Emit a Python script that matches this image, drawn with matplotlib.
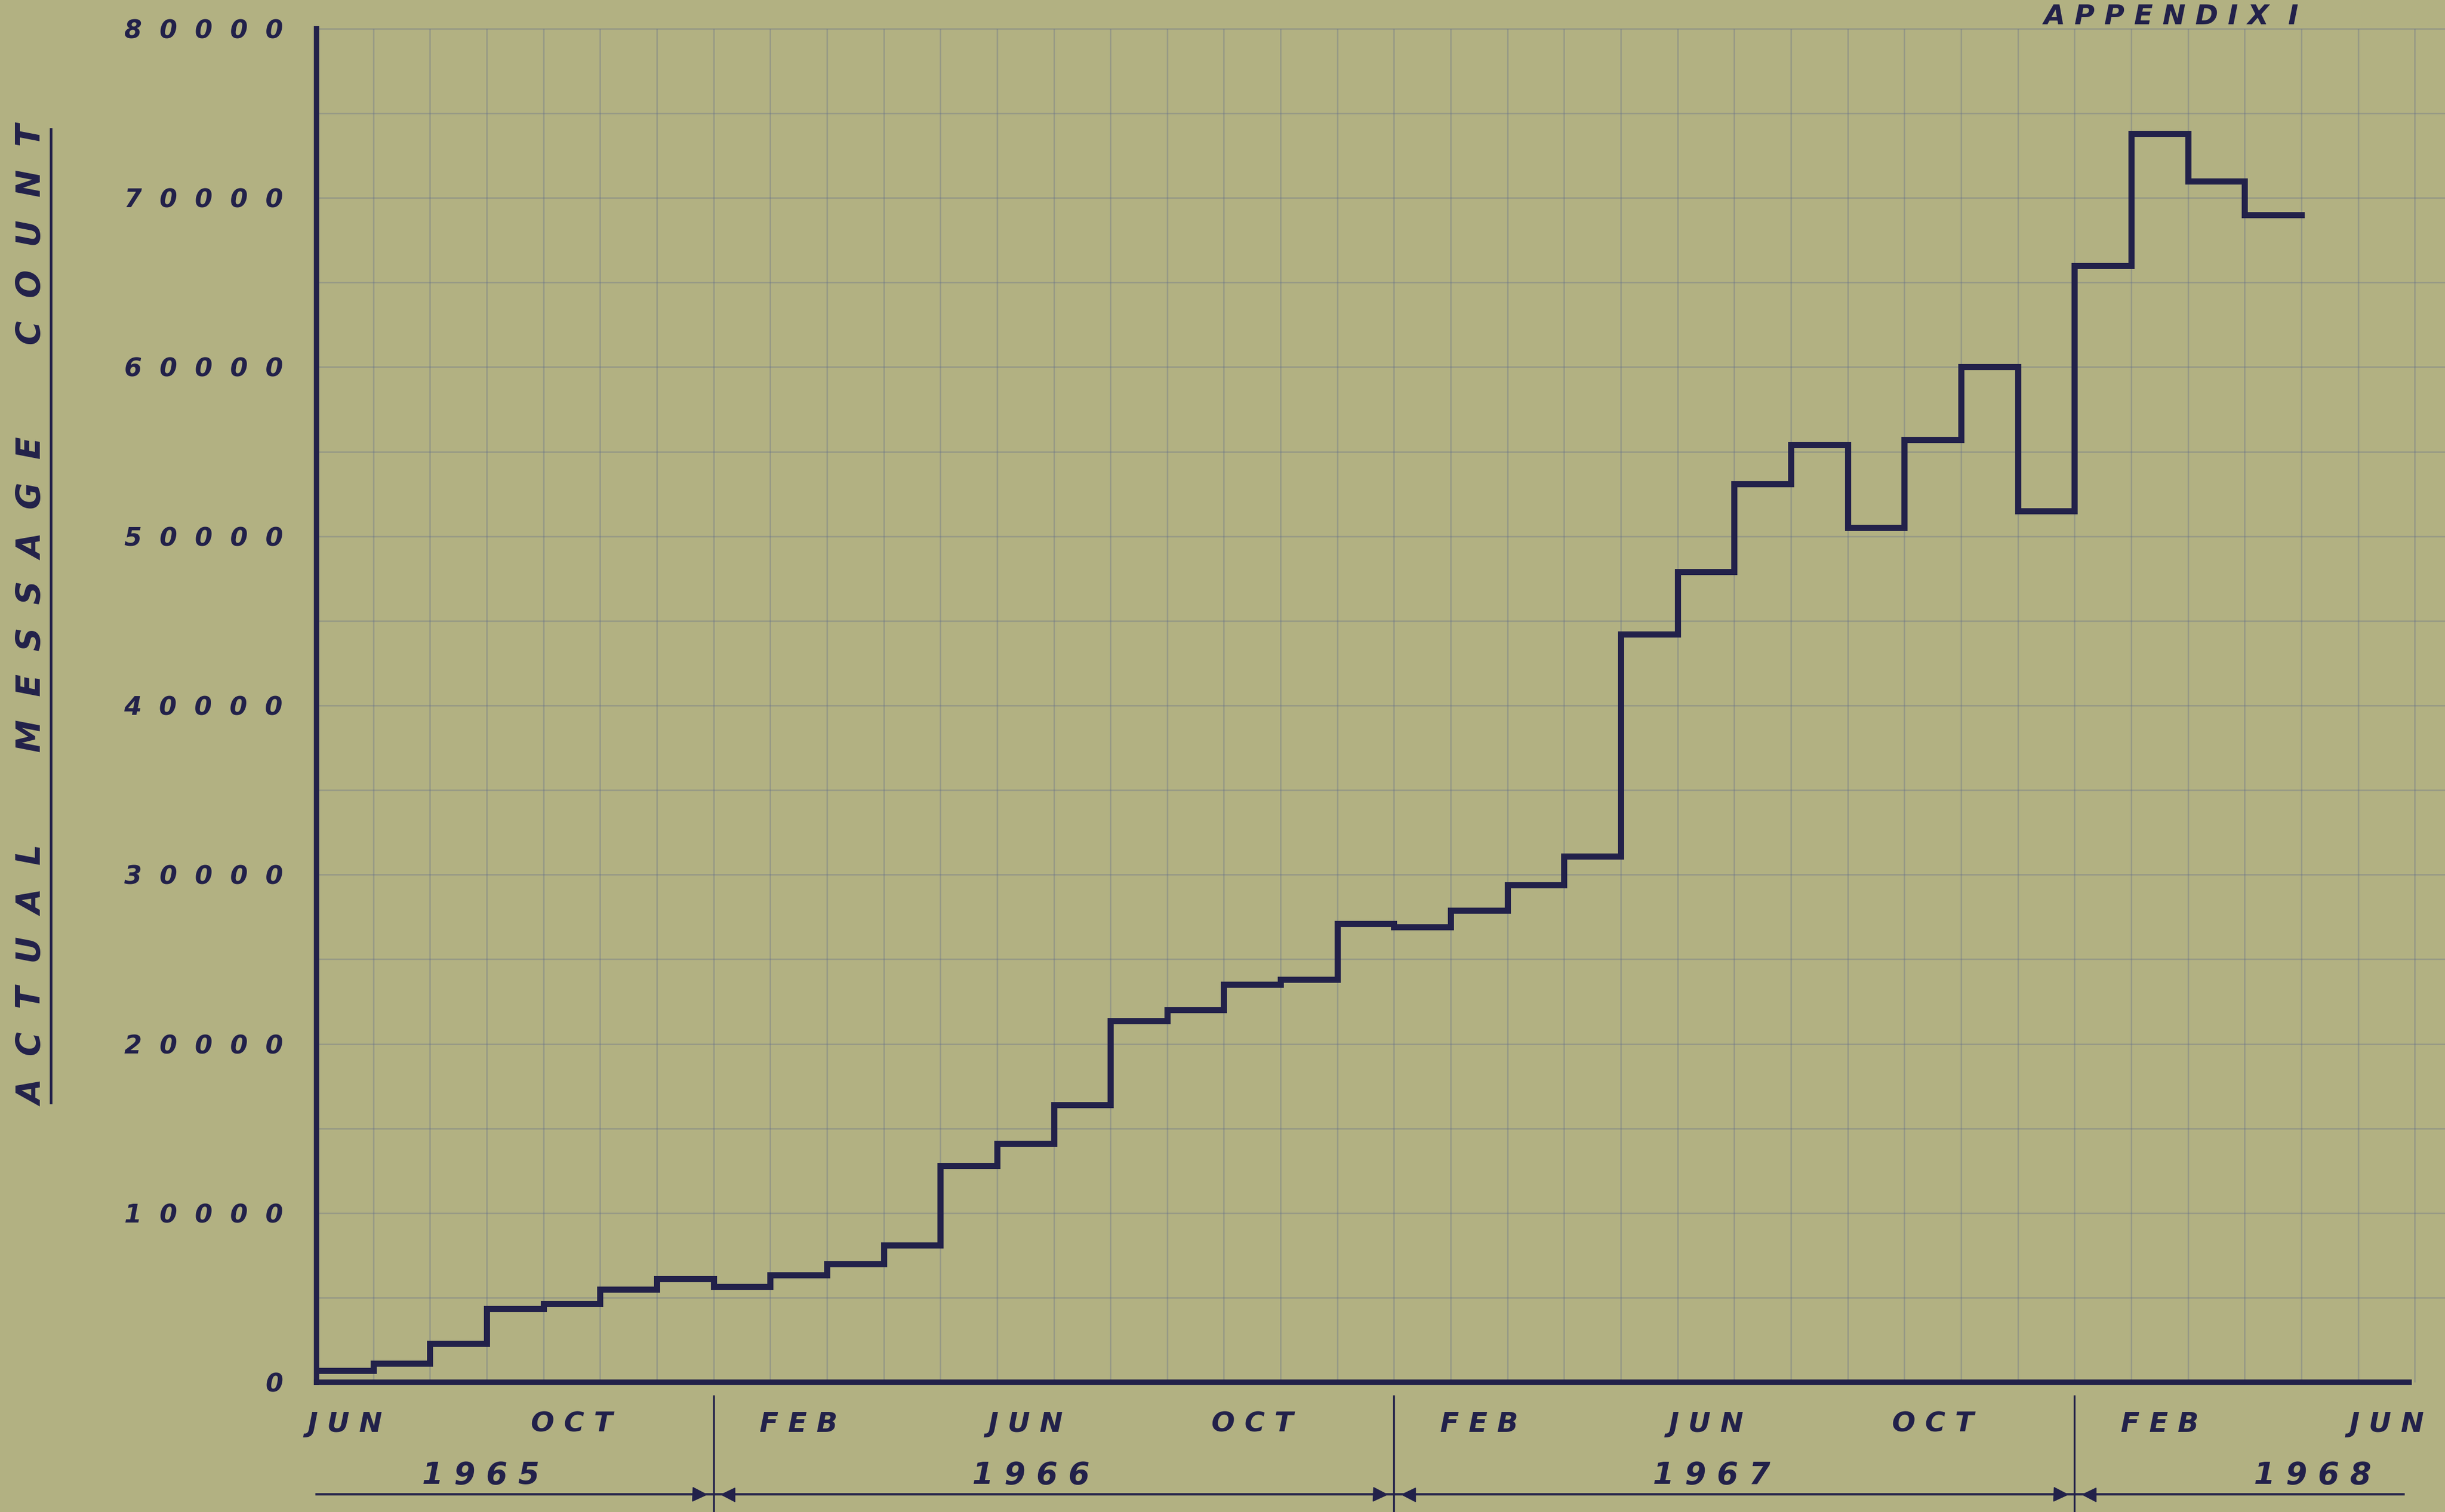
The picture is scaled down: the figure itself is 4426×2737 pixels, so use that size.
import numpy as np
import matplotlib
matplotlib.use("Agg")
import matplotlib.pyplot as plt
from matplotlib.lines import Line2D
import matplotlib.transforms as mtransforms

# monthly message counts, Jun 1965 .. Apr 1968
counts = [700, 1100, 2300, 4350, 4650, 5500, 6100, 5650, 6350, 7000,
          8100, 12800, 14100, 16400, 21350, 22000, 23500, 23800, 27100, 26900,
          27900, 29400, 31100, 44200, 47900, 53100, 55400, 50500, 55700, 60000,
          51500, 66000, 73800, 71000, 69000]
month_names = ["JUN", "OCT", "FEB", "JUN", "OCT", "FEB", "JUN", "OCT", "FEB", "JUN"]
month_pos = [0, 4, 8, 12, 16, 20, 24, 28, 32, 36]
years = ["1965", "1966", "1967", "1968"]
year_pos = [2.9, 12.6, 24.6, 35.2]
year_breaks = [7, 19, 31]
y_ticks = [0, 10000, 20000, 30000, 40000, 50000, 60000, 70000, 80000]

PAPER = "#b2b182"
INK = "#22214a"
GRID = "#5d6a8c"
FONT = ["Liberation Sans Narrow", "DejaVu Sans"]

def spaced(s, gap=" "):
    return gap.join(s)

W, H = 4426, 2737
fig = plt.figure(figsize=(W / 100, H / 100), dpi=100)
fig.patch.set_facecolor(PAPER)
ax = fig.add_axes([573 / W, 235 / H, (4361 - 573) / W, (2502 - 52) / H])
ax.set_facecolor(PAPER)
ax.set_xlim(0, 36.9)
ax.set_ylim(0, 80000)

# graph paper
ax.vlines(np.arange(1, 38), 0, 80000, color=GRID, lw=1.8, alpha=0.34, zorder=1, clip_on=False)
ax.hlines(np.arange(5000, 80001, 5000), 0, 37.6, color=GRID, lw=1.8, alpha=0.34, zorder=1, clip_on=False)

# the step curve
edges = np.arange(len(counts) + 1)
ax.stairs(counts, edges, baseline=None, color=INK, lw=8, zorder=3,
          joinstyle="miter", capstyle="projecting")

for side in ["top", "right"]:
    ax.spines[side].set_visible(False)
for side in ["left", "bottom"]:
    ax.spines[side].set_color(INK)
    ax.spines[side].set_linewidth(7)
    ax.spines[side].set_capstyle("projecting")

ax.set_xticks([])
ax.set_yticks(y_ticks)
ax.set_yticklabels([spaced(str(v), "  ") if v else "0" for v in y_ticks],
                   family=FONT, style="italic", weight="bold", fontsize=33, color=INK)
ax.tick_params(axis="y", length=0, pad=44)

trans = mtransforms.blended_transform_factory(ax.transData, ax.transAxes)
for name, m in zip(month_names, month_pos):
    ax.text(m + 0.5, -0.031, spaced(name), transform=trans, ha="center", va="center",
            family=FONT, style="italic", weight="bold", fontsize=36, color=INK, clip_on=False)
for yr, m in zip(years, year_pos):
    ax.text(m, -0.069, spaced(yr), transform=trans, ha="center", va="center",
            family=FONT, style="italic", weight="bold", fontsize=40, color=INK, clip_on=False)

# year bracket line with separators and arrow heads
ax.plot([0, 36.8], [-0.083, -0.083], transform=trans, color=INK, lw=3, clip_on=False)
for b in year_breaks:
    ax.plot([b, b], [-0.010, -0.097], transform=trans, color=INK, lw=2.4, clip_on=False)
    ax.plot([b - 0.25], [-0.083], transform=trans, marker=">", ms=18, color=INK, clip_on=False)
    ax.plot([b + 0.25], [-0.083], transform=trans, marker="<", ms=18, color=INK, clip_on=False)

# y axis title with underline
title = spaced("ACTUAL", "  ") + " " * 8 + spaced("MESSAGE", "  ") + " " * 8 + spaced("COUNT", "  ")
fig.text(60 / W, 1 - 1115 / H, title, rotation=90, ha="center", va="center",
         family=FONT, style="italic", weight="bold", fontsize=43, color=INK)
fig.add_artist(Line2D([92 / W, 92 / W], [1 - 234 / H, 1 - 1996 / H], color=INK, lw=3.5))

# page heading at the top edge
fig.text(3930 / W, 1 - 6 / H, spaced("APPENDIX") + "  I", ha="center", va="top",
         family=FONT, style="italic", weight="bold", fontsize=36, color=INK)

fig.savefig("out.png", dpi=100, facecolor=PAPER)
